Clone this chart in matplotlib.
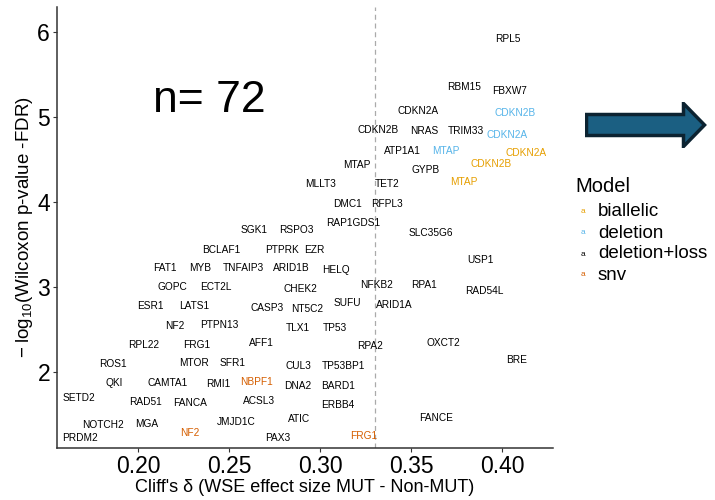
import matplotlib
matplotlib.use('Agg')
import matplotlib.pyplot as plt
from matplotlib.patches import FancyArrow

plt.rcParams['font.family'] = ['Liberation Sans', 'DejaVu Sans']
plt.rcParams['mathtext.fontset'] = 'custom'
plt.rcParams['mathtext.rm'] = 'Liberation Sans'
plt.rcParams['mathtext.it'] = 'Liberation Sans:italic'

#gene labels, effect size (cliff's delta), -log10 FDR and model
genes = ['RPL5', 'RBM15', 'FBXW7', 'CDKN2A', 'CDKN2B', 'CDKN2B', 'NRAS', 'TRIM33',
         'CDKN2A', 'ATP1A1', 'MTAP', 'CDKN2A', 'MTAP', 'CDKN2B', 'GYPB', 'MLLT3',
         'TET2', 'MTAP', 'DMC1', 'RFPL3', 'SGK1', 'RSPO3', 'RAP1GDS1', 'SLC35G6',
         'BCLAF1', 'PTPRK', 'EZR', 'FAT1', 'MYB', 'TNFAIP3', 'ARID1B', 'HELQ',
         'USP1', 'GOPC', 'ECT2L', 'CHEK2', 'NFKB2', 'RPA1', 'RAD54L', 'ESR1',
         'LATS1', 'CASP3', 'NT5C2', 'SUFU', 'ARID1A', 'NF2', 'PTPN13', 'TLX1',
         'TP53', 'RPL22', 'FRG1', 'AFF1', 'RPA2', 'OXCT2', 'ROS1', 'MTOR',
         'SFR1', 'CUL3', 'TP53BP1', 'BRE', 'QKI', 'CAMTA1', 'RMI1', 'NBPF1',
         'DNA2', 'BARD1', 'SETD2', 'RAD51', 'FANCA', 'ACSL3', 'ERBB4', 'NOTCH2',
         'MGA', 'JMJD1C', 'ATIC', 'FANCE', 'NF2', 'PRDM2', 'PAX3', 'FRG1']

delta = [0.403, 0.379, 0.404, 0.354, 0.407, 0.332, 0.357, 0.380,
         0.403, 0.345, 0.369, 0.413, 0.320, 0.394, 0.358, 0.3005,
         0.337, 0.379, 0.315, 0.337, 0.264, 0.287, 0.318, 0.361,
         0.246, 0.279, 0.297, 0.215, 0.234, 0.258, 0.284, 0.309,
         0.388, 0.219, 0.243, 0.289, 0.331, 0.357, 0.390, 0.207,
         0.231, 0.271, 0.293, 0.315, 0.341, 0.220, 0.2445, 0.288,
         0.308, 0.203, 0.232, 0.268, 0.3275, 0.3675, 0.186, 0.231,
         0.252, 0.288, 0.313, 0.408, 0.187, 0.2165, 0.244, 0.265,
         0.288, 0.310, 0.1676, 0.204, 0.2285, 0.2665, 0.310, 0.181,
         0.205, 0.254, 0.2885, 0.364, 0.2285, 0.168, 0.277, 0.324]

logp = [5.92, 5.355, 5.30, 5.07, 5.04, 4.85, 4.83, 4.83,
        4.79, 4.60, 4.60, 4.57, 4.43, 4.45, 4.37, 4.21,
        4.21, 4.23, 3.98, 3.98, 3.67, 3.67, 3.75, 3.63,
        3.44, 3.44, 3.43, 3.22, 3.22, 3.22, 3.22, 3.20,
        3.32, 3.00, 3.00, 2.98, 3.03, 3.02, 2.95, 2.78,
        2.78, 2.75, 2.74, 2.81, 2.79, 2.54, 2.55, 2.52,
        2.52, 2.32, 2.32, 2.34, 2.31, 2.34, 2.10, 2.11,
        2.11, 2.07, 2.07, 2.14, 1.87, 1.87, 1.86, 1.885,
        1.84, 1.84, 1.70, 1.65, 1.64, 1.66, 1.615, 1.38,
        1.39, 1.42, 1.45, 1.46, 1.29, 1.23, 1.23, 1.25]

model = ['deletion+loss'] * 80
for i in [4, 8, 10]:
    model[i] = 'deletion'
for i in [11, 13, 17]:
    model[i] = 'biallelic'
for i in [63, 76, 79]:
    model[i] = 'snv'

models = ['biallelic', 'deletion', 'deletion+loss', 'snv']
model_colors = {'biallelic': '#E69F00', 'deletion': '#56B4E9',
                'deletion+loss': '#000000', 'snv': '#D55E00'}

n_genes = 72
cutoff = 0.33

fig = plt.figure(figsize=(7.15, 5.0), dpi=100)
ax = fig.add_axes([57/715, 52/500, 496/715, 441/500])

for g, x, y, m in zip(genes, delta, logp, model):
    ax.text(x, y, g, color=model_colors[m], fontsize=7.3, ha='center', va='center')

ax.axvline(cutoff, color='#aaaaaa', linestyle=(0, (4, 3)), linewidth=0.9)

ax.text(0.239, 5.19, 'n= ' + str(n_genes), fontsize=32, ha='center', va='center')

ax.set_xlim(0.1555, 0.428)
ax.set_ylim(1.11, 6.29)
ax.set_xticks([0.20, 0.25, 0.30, 0.35, 0.40])
ax.set_xticklabels(['0.20', '0.25', '0.30', '0.35', '0.40'])
ax.set_yticks([2, 3, 4, 5, 6])
ax.tick_params(labelsize=16.5, length=3, width=0.8, color='#333333', pad=2)
ax.spines['top'].set_visible(False)
ax.spines['right'].set_visible(False)
ax.spines['left'].set_linewidth(1.1)
ax.spines['bottom'].set_linewidth(1.1)
ax.spines['left'].set_color('#333333')
ax.spines['bottom'].set_color('#333333')

ax.set_xlabel("Cliff's δ (WSE effect size MUT - Non-MUT)", fontsize=13, labelpad=1)
ax.set_ylabel(r'$-\;\mathrm{log}_{10}$(Wilcoxon p-value -FDR)', fontsize=13.5, labelpad=2)

#legend drawn by hand (ggplot style with 'a' keys)
fig.text(575/715, 1 - 187/500, 'Model', fontsize=14.5, va='center', ha='left')
for k, m in enumerate(models):
    yy = 1 - (212 + k*21)/500
    fig.text(583/715, yy, 'a', fontsize=6, color=model_colors[m], va='center', ha='center')
    fig.text(598/715, yy, m, fontsize=13.5, va='center', ha='left')

#arrow on the right
arr_ax = fig.add_axes([585/715, 1 - 148/500, 122/715, 46/500])
arr_ax.set_xlim(0, 122)
arr_ax.set_ylim(0, 46)
arr_ax.axis('off')
arr_ax.add_patch(FancyArrow(1.5, 23, 118, 0, width=21, head_width=43, head_length=21,
                            length_includes_head=True, facecolor='#1B5F82',
                            edgecolor='#0C2331', linewidth=2.5))

plt.savefig('out.png', dpi=100)
